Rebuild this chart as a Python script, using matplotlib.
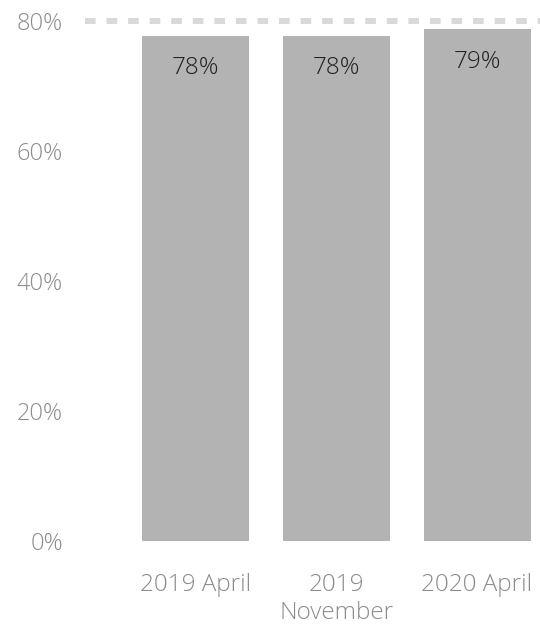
import matplotlib
matplotlib.use("Agg")
import matplotlib.pyplot as plt

# Survey waves and share values (%)
categories = ["2019 April", "2019\nNovember", "2020 April"]
values = [77.8, 77.8, 78.8]
target = 80
y_ticks = [0, 20, 40, 60, 80]

plt.rcParams["font.family"] = ["Open Sans", "DejaVu Sans"]
plt.rcParams["font.weight"] = "light"

W, H, DPI = 540, 627, 100
fig = plt.figure(figsize=(W / DPI, H / DPI), dpi=DPI)

left, right = 85 / W, 540 / W
bottom = 1 - 541 / H
top = 1 - 21.3 / H
ax = fig.add_axes([left, bottom, right - left, top - bottom])

x = list(range(len(categories)))
ax.bar(x, values, width=0.76, color="#b3b3b3", zorder=2)

# Target reference line
ax.axhline(target, color="#d9d9d9", linewidth=4.3,
           linestyle=(0, (1.78, 1.83)), solid_capstyle="butt",
           dash_capstyle="butt", clip_on=False, zorder=1)

for xi, v in zip(x, values):
    ax.annotate(f"{v:.0f}%", xy=(xi, v), xytext=(0, -23.5),
                textcoords="offset points", ha="center", va="center",
                fontsize=17.5, color="#222222", fontweight="light", zorder=3)

ax.set_xlim(-0.784, 2.447)
ax.set_ylim(0, 80)
ax.set_xticks(x)
ax.set_xticklabels(categories, fontsize=17.5, color="#8c8c8c",
                   linespacing=1.22, fontweight="light")
ax.set_yticks(y_ticks)
ax.set_yticklabels([f"{t}%" for t in y_ticks], fontsize=17, color="#8c8c8c",
                   fontweight="light")
ax.tick_params(axis="both", length=0)
ax.tick_params(axis="y", pad=16)
ax.tick_params(axis="x", pad=23)
for s in ax.spines.values():
    s.set_visible(False)

fig.savefig("out.png", dpi=DPI)
